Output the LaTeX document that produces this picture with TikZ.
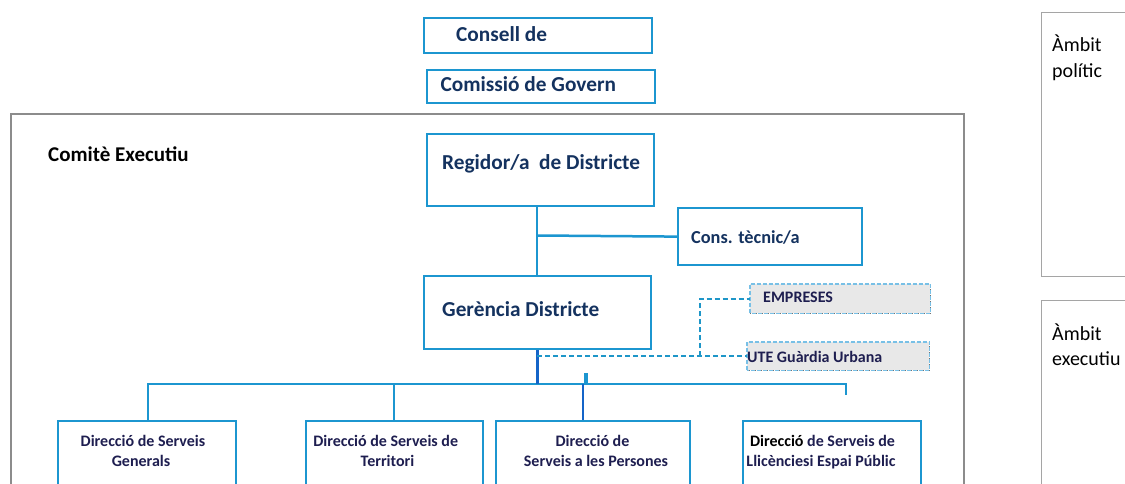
\documentclass[tikz,border=0pt]{standalone}
\usepackage{fontspec}
\setmainfont{Carlito}
\definecolor{boxblue}{RGB}{28,150,208}
\definecolor{linkblue}{RGB}{20,100,200}
\definecolor{navy}{RGB}{20,50,95}
\definecolor{dirnavy}{RGB}{30,30,80}
\definecolor{framegray}{RGB}{140,140,140}
\definecolor{ambitgray}{RGB}{165,165,165}
\definecolor{dashfill}{RGB}{232,232,232}
\definecolor{dashedge}{RGB}{120,192,230}
\definecolor{dashlink}{RGB}{30,150,200}
\begin{document}
\begin{tikzpicture}[x=1pt,y=-1pt,
  bluebox/.style={draw=boxblue, line width=2.2pt, anchor=north west, inner sep=0pt, fill=white},
  grayframe/.style={draw=framegray, line width=2pt, anchor=north west, inner sep=0pt},
  ambitbox/.style={draw=ambitgray, line width=1.2pt, anchor=north west, inner sep=0pt},
  extbox/.style={fill=dashfill, anchor=north west, inner sep=0pt},
  lbl/.style={inner sep=0pt, anchor=base west, text=navy, font=\fontsize{21.3}{25}\selectfont\bfseries},
  smalllbl/.style={inner sep=0pt, anchor=base west, text=navy, font=\fontsize{18.3}{22}\selectfont\bfseries},
  extlbl/.style={inner sep=0pt, anchor=base west, text=dirnavy, font=\fontsize{16}{20}\selectfont\bfseries},
  dirlbl/.style={inner sep=0pt, anchor=base, text=dirnavy, font=\fontsize{16}{20}\selectfont\bfseries},
  ambitlbl/.style={inner sep=0pt, anchor=base west, text=black, font=\fontsize{20}{24}\selectfont},
  conn/.style={draw=boxblue, line width=2.5pt},
  darkconn/.style={draw=linkblue, line width=2.5pt},
  dashconn/.style={draw=dashlink, line width=2.2pt, dash pattern=on 5pt off 3pt}
]
\useasboundingbox (0,0) rectangle (1125,484);
\fill[white] (0,0) rectangle (1125,484);
\clip (0,0) rectangle (1125,484);

% right-hand scope boxes
\node[ambitbox, minimum width=100pt, minimum height=264pt] (pol) at (1041,12) {};
\node[ambitlbl] (polT1) at (1052,52) {Àmbit};
\node[ambitlbl] (polT2) at (1052,78) {polític};
\node[ambitbox, minimum width=100pt, minimum height=200pt] (exe) at (1041,300) {};
\node[ambitlbl] (exeT1) at (1052,340) {Àmbit};
\node[ambitlbl] (exeT2) at (1052,365) {executiu};

% Comite Executiu frame
\node[grayframe, minimum width=953pt, minimum height=390pt] (comite) at (10,113) {};
\node[lbl, text=black, font=\fontsize{21}{24}\selectfont\bfseries] (comiteT) at (48,162) {Comitè Executiu};

% top boxes
\node[bluebox, minimum width=228pt, minimum height=35pt] (consell) at (422.5,17) {};
\begin{scope}
  \clip (423,17) rectangle (650,40.3);
  \node[lbl] (consellT) at (456,41.5) {Consell de};
\end{scope}
\node[bluebox, minimum width=228pt, minimum height=33pt] (comissio) at (426,69) {};
\node[lbl] (comissioT) at (440.5,91.7) {Comissió de Govern};

% Regidor, Cons. tecnic, Gerencia
\node[bluebox, minimum width=227pt, minimum height=72pt] (reg) at (426,133) {};
\node[lbl] (regT) at (442,170) {Regidor/a\ \ de Districte};
\node[bluebox, minimum width=184pt, minimum height=57pt] (cons) at (677,207) {};
\node[smalllbl] (consT) at (691,243.3) {Cons. tècnic/a};
\node[bluebox, minimum width=227pt, minimum height=73pt] (ger) at (423,275) {};
\node[lbl] (gerT) at (442,316.7) {Gerència Districte};

% external boxes
\node[extbox, minimum width=180pt, minimum height=29pt] (emp) at (750,284) {};
\draw[black!55, line width=1pt, densely dotted] (emp.south west) -- (emp.south east) -- (emp.north east);
\draw[dashedge, line width=1.8pt, dash pattern=on 4pt off 2pt] (emp.south west) rectangle (emp.north east);
\node[extlbl] (empT) at (763,302.7) {EMPRESES};
\node[extbox, minimum width=182pt, minimum height=28pt] (ute) at (747,342) {};
\draw[black!55, line width=1pt, densely dotted] (ute.south west) -- (ute.south east) -- (ute.north east);
\draw[dashedge, line width=1.8pt, dash pattern=on 4pt off 2pt] (ute.south west) rectangle (ute.north east);
\node[extlbl] (uteT) at (747,362.7) {UTE Guàrdia Urbana};

% direccions
\node[bluebox, minimum width=178pt, minimum height=80pt] (dsg) at (57,420) {};
\node[dirlbl] (dsgT1) at (143,446) {Direcció de Serveis};
\node[dirlbl] (dsgT2) at (141,466.7) {Generals};
\node[bluebox, minimum width=177pt, minimum height=80pt] (dst) at (305,420) {};
\node[dirlbl] (dstT1) at (385.7,446) {Direcció de Serveis de};
\node[dirlbl] (dstT2) at (387.5,466.7) {Territori};
\node[bluebox, minimum width=194pt, minimum height=80pt] (dsp) at (495,420) {};
\node[dirlbl] (dspT1) at (592.5,446) {Direcció de};
\node[dirlbl] (dspT2) at (596,466.7) {Serveis a les Persones};
\node[bluebox, minimum width=178pt, minimum height=80pt] (dsl) at (742,420) {};
\node[dirlbl] (dslT1) at (822.5,446) {\textcolor{black}{Direcció} de Serveis de};
\node[dirlbl] (dslT2) at (821,466.7) {Llicènciesi Espai Públic};

% connectors
\coordinate (j1) at (537,235.5);
\draw[conn] (j1 |- reg.south) -- (j1 |- ger.north);
\draw[conn] (j1) -- (cons.west);

\coordinate (j2) at (537,384);
\coordinate (busL) at (148,384);
\coordinate (busR) at (846,384);
\coordinate (busT) at (394,384);
\coordinate (busP) at (583,384);
\coordinate (stubTop) at (586,373);
\coordinate (stubR) at (846,395);
\draw[conn] (busL |- dsg.north) -- (busL) -- (busR) -- (stubR);
\draw[conn] (busT) -- (busT |- dst.north);
\draw[darkconn] (busP) -- (busP |- dsp.north);
\draw[conn, line width=3.2pt] (stubTop) -- (stubTop |- busR);
\draw[darkconn, line width=3pt] (j2 |- ger.south) -- (j2);

% dashed links to external bodies
\coordinate (dx) at (700,356);
\draw[dashconn] (j2 |- ute.west) -- (ute.west);
\draw[dashconn] (dx) |- (emp.west);
\end{tikzpicture}
\end{document}
